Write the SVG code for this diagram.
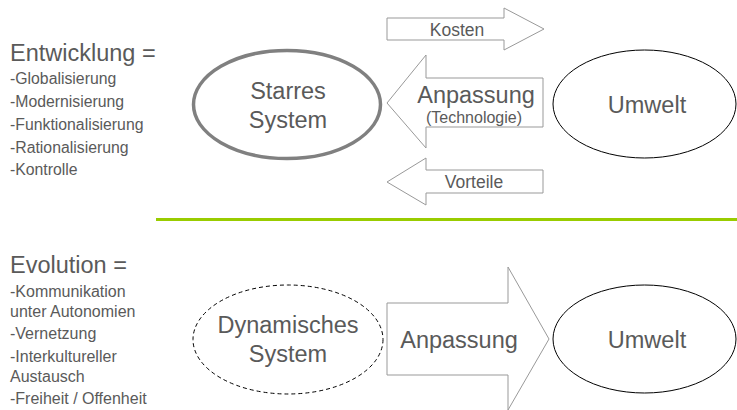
<svg xmlns="http://www.w3.org/2000/svg" width="737" height="410" viewBox="0 0 737 410">
<style>
text{font-family:"Liberation Sans",Arial,sans-serif;fill:#5a5a5a}
.h{font-size:23.5px}
.l{font-size:15.8px}
.l2{font-size:16px}
.big{font-size:23.5px;text-anchor:middle}
.sm{font-size:17.5px;text-anchor:middle}
.xs{font-size:16px;text-anchor:middle}
.arrow{fill:#fff;stroke:#999;stroke-width:1}
</style>
<rect width="737" height="410" fill="#fff"/>
<g id="entwicklung">
<text class="h" x="10" y="61">Entwicklung =</text>
<text class="l" x="10" y="84">-Globalisierung</text>
<text class="l" x="10" y="107">-Modernisierung</text>
<text class="l" x="10" y="130">-Funktionalisierung</text>
<text class="l" x="10" y="153">-Rationalisierung</text>
<text class="l" x="10" y="175">-Kontrolle</text>
</g>
<g id="starres-system">
<ellipse cx="287" cy="104.5" rx="93.5" ry="54" fill="#fff" stroke="#808080" stroke-width="3.5"/>
<text class="big" x="288" y="99">Starres</text>
<text class="big" x="288" y="128">System</text>
</g>
<g id="umwelt-top">
<ellipse cx="644.5" cy="104" rx="91.5" ry="54" fill="#fff" stroke="#000" stroke-width="1"/>
<text class="big" x="647" y="113">Umwelt</text>
</g>
<g id="connectors">
<g id="kosten">
<polygon class="arrow" points="387,18 504,18 504,8 544,29 504,50 504,40 387,40"/>
<text class="sm" x="457" y="35.5">Kosten</text>
</g>
<g id="anpassung-top">
<polygon class="arrow" points="543,78 426,78 426,55 387,103 426,148 426,127 543,127"/>
<text class="big" x="476" y="103">Anpassung</text>
<text class="xs" x="474" y="123">(Technologie)</text>
</g>
<g id="vorteile">
<polygon class="arrow" points="543,170 426,170 426,158 387,182 426,205 426,193 543,193"/>
<text class="sm" x="474" y="188">Vorteile</text>
</g>
<g id="anpassung-bottom">
<polygon class="arrow" points="387,303 508,303 508,267 549,339 508,410 508,375 387,375"/>
<text class="big" x="459" y="348">Anpassung</text>
</g>
</g>
<line id="separator" x1="156" y1="219.5" x2="737" y2="219.5" stroke="#99cc00" stroke-width="3"/>
<g id="evolution">
<text class="h" x="10" y="273">Evolution =</text>
<text class="l2" x="10" y="297">-Kommunikation</text>
<text class="l2" x="10" y="317">unter Autonomien</text>
<text class="l2" x="10" y="339">-Vernetzung</text>
<text class="l2" x="10" y="362">-Interkultureller</text>
<text class="l2" x="10" y="382">Austausch</text>
<text class="l2" x="10" y="404">-Freiheit / Offenheit</text>
</g>
<g id="dynamisches-system">
<ellipse cx="288" cy="339.5" rx="95" ry="54.5" fill="#fff" stroke="#000" stroke-width="1" stroke-dasharray="4,3"/>
<text class="big" x="288" y="333">Dynamisches</text>
<text class="big" x="288" y="362">System</text>
</g>
<g id="umwelt-bottom">
<ellipse cx="644.5" cy="339" rx="91.5" ry="54" fill="#fff" stroke="#000" stroke-width="1"/>
<text class="big" x="647" y="348">Umwelt</text>
</g>
</svg>
